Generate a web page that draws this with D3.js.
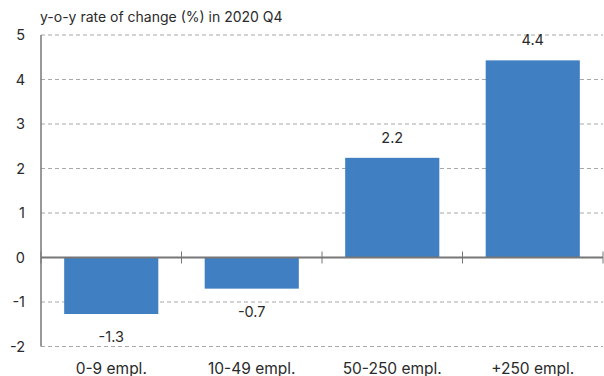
<!DOCTYPE html>
<html>
<head>
<meta charset="utf-8">
<script src="https://cdn.jsdelivr.net/npm/d3@7"></script>
<style>
body { margin: 0; background: #fff; }
text { font-family: Inter, "DejaVu Sans", sans-serif; fill: #2a2a2a; }
</style>
</head>
<body>
<div class="chart"></div>
<script>
// data
var categories = ["0-9 empl.", "10-49 empl.", "50-250 empl.", "+250 empl."];
var values = [-1.27, -0.70, 2.24, 4.43];
var yTicks = [-2, -1, 0, 1, 2, 3, 4, 5];
var title = "y-o-y rate of change (%) in 2020 Q4";

var svgWidth = 604;
var svgHeight = 376;

var margin = { top: 35, right: 1, bottom: 29.5, left: 41 };
var width = svgWidth - margin.left - margin.right;
var height = svgHeight - margin.top - margin.bottom;

var svg = d3.select(".chart")
    .append("svg")
    .attr("width", svgWidth)
    .attr("height", svgHeight);

var chartGroup = svg.append("g")
    .attr("transform", `translate(${margin.left}, ${margin.top})`);

var x = d3.scaleBand()
    .domain(categories)
    .range([0, width])
    .paddingInner(0.33)
    .paddingOuter(0.165);

var y = d3.scaleLinear()
    .domain([-2, 5])
    .range([height, 0]);

// dashed gridlines
chartGroup.selectAll(".grid")
    .data(yTicks.filter(d => d !== 0))
    .enter()
    .append("line")
    .attr("x1", 0)
    .attr("x2", width)
    .attr("y1", d => y(d))
    .attr("y2", d => y(d))
    .attr("stroke", "#a8a8a8")
    .attr("stroke-width", 1)
    .attr("stroke-dasharray", "4,3");

// y tick labels
chartGroup.selectAll(".ylab")
    .data(yTicks)
    .enter()
    .append("text")
    .attr("x", -16)
    .attr("y", d => y(d))
    .attr("dy", "0.36em")
    .attr("text-anchor", "end")
    .style("font-size", "14.5px")
    .text(d => d);

// bars
chartGroup.selectAll(".bar")
    .data(values)
    .enter()
    .append("rect")
    .attr("x", (d, i) => x(categories[i]))
    .attr("width", x.bandwidth())
    .attr("y", d => y(Math.max(0, d)))
    .attr("height", d => Math.abs(y(d) - y(0)))
    .attr("fill", "#3f7fc2");

// value labels
chartGroup.selectAll(".vlab")
    .data(values)
    .enter()
    .append("text")
    .attr("x", (d, i) => x(categories[i]) + x.bandwidth() / 2)
    .attr("y", d => d >= 0 ? y(d) - 15 : y(d) + 28)
    .attr("text-anchor", "middle")
    .style("font-size", "14.5px")
    .text(d => d3.format(".1f")(d).replace("−", "-"));

// y axis line
chartGroup.append("line")
    .attr("x1", 0).attr("x2", 0)
    .attr("y1", 0).attr("y2", height)
    .attr("stroke", "#777")
    .attr("stroke-width", 1.5);

// zero line with category separators
chartGroup.append("line")
    .attr("x1", 0).attr("x2", width)
    .attr("y1", y(0)).attr("y2", y(0))
    .attr("stroke", "#777")
    .attr("stroke-width", 2);

var seps = d3.range(categories.length + 1).map(i => i * width / categories.length);
chartGroup.selectAll(".sep")
    .data(seps)
    .enter()
    .append("line")
    .attr("x1", d => d).attr("x2", d => d)
    .attr("y1", y(0) - 6).attr("y2", y(0) + 6)
    .attr("stroke", "#777")
    .attr("stroke-width", 1);

// category labels
chartGroup.selectAll(".xlab")
    .data(categories)
    .enter()
    .append("text")
    .attr("x", d => x(d) + x.bandwidth() / 2)
    .attr("y", height + 27)
    .attr("text-anchor", "middle")
    .style("font-size", "15.5px")
    .text(d => d);

// title
svg.append("text")
    .attr("x", 40)
    .attr("y", 22)
    .style("font-size", "14px")
    .text(title);
</script>
</body>
</html>
